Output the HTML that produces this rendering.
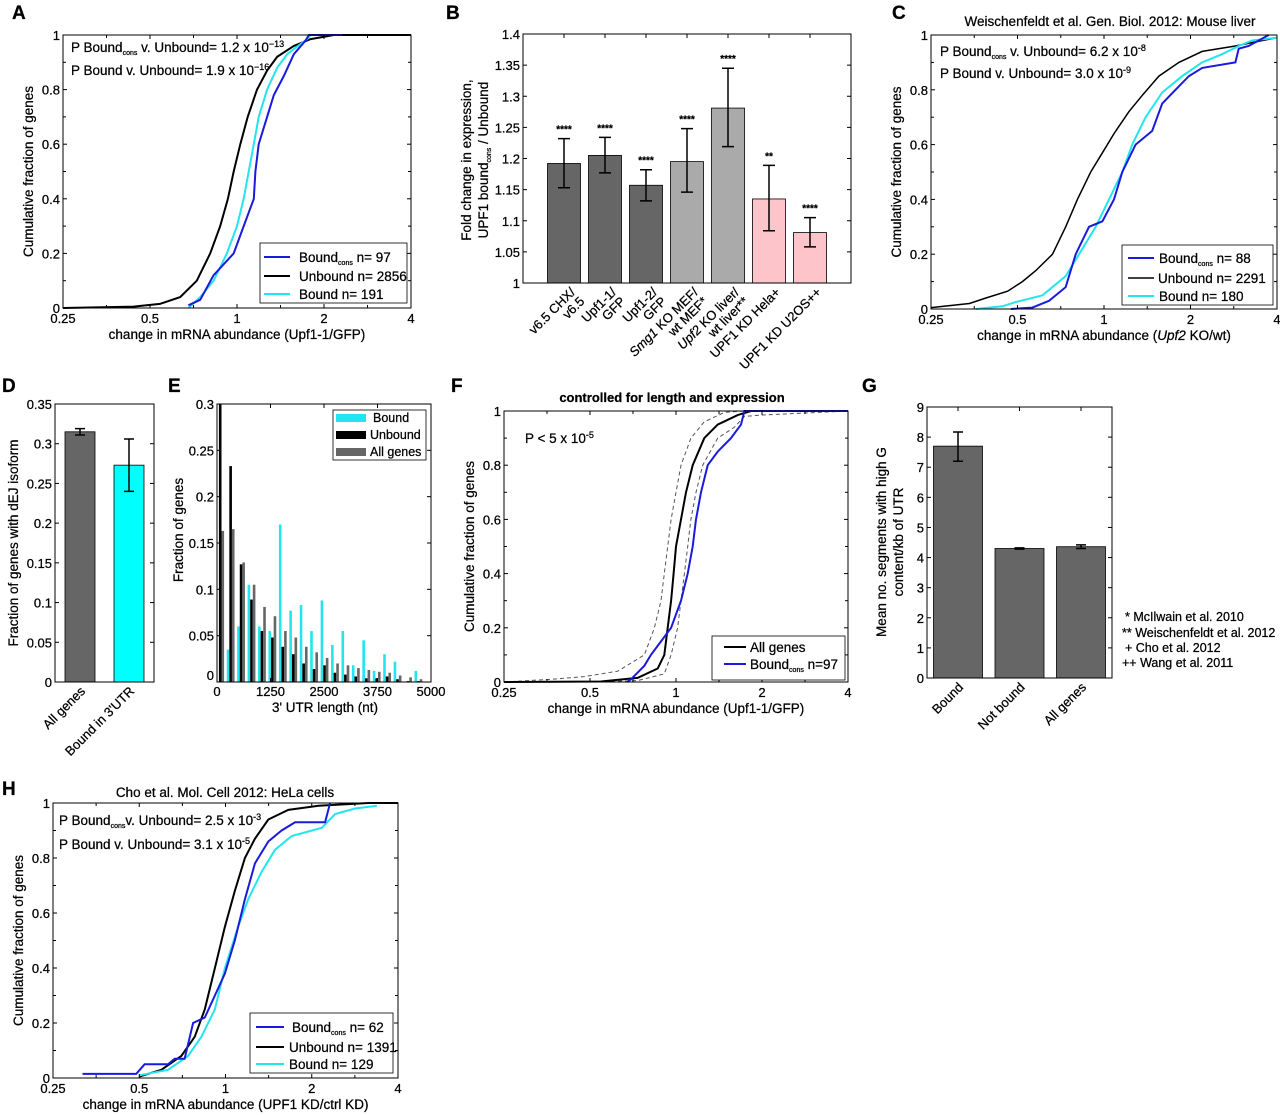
<!DOCTYPE html>
<html><head><meta charset="utf-8"><style>
html,body{margin:0;padding:0;background:#fff;}
svg{display:block;font-family:"Liberation Sans",Arial,sans-serif;}
text{fill:#000;stroke:#000;stroke-width:0.25px;}
</style></head><body>
<svg id="fig" xmlns="http://www.w3.org/2000/svg" width="1280" height="1115" viewBox="0 0 1280 1115">
<rect width="1280" height="1115" fill="#fff"/>
<g font-weight="bold" font-size="19">
<text x="12" y="19">A</text>
<text x="446" y="19">B</text>
<text x="892" y="19">C</text>
<text x="2" y="392">D</text>
<text x="168" y="392">E</text>
<text x="451" y="392">F</text>
<text x="862" y="392">G</text>
<text x="2" y="795">H</text>
</g>
<g font-size="13.5">
<text x="71" y="52">P Bound<tspan font-size="7" dy="3">cons</tspan><tspan dy="-3"> v. Unbound= 1.2 x 10</tspan><tspan font-size="9" dy="-5">−13</tspan></text>
<text x="71" y="75">P Bound v. Unbound= 1.9 x 10<tspan font-size="9" dy="-5">−16</tspan></text>
<text x="1110" y="26" text-anchor="middle">Weischenfeldt et al. Gen. Biol. 2012: Mouse liver</text>
<text x="940" y="56">P Bound<tspan font-size="7" dy="3">cons</tspan><tspan dy="-3"> v. Unbound= 6.2 x 10</tspan><tspan font-size="9" dy="-5">-8</tspan></text>
<text x="940" y="78">P Bound v. Unbound= 3.0 x 10<tspan font-size="9" dy="-5">-9</tspan></text>
<text x="672" y="402" text-anchor="middle" font-weight="bold" font-size="13">controlled for length and expression</text>
<text x="525" y="443">P &lt; 5 x 10<tspan font-size="9" dy="-5">-5</tspan></text>
<text x="225" y="797" text-anchor="middle">Cho et al. Mol. Cell 2012: HeLa cells</text>
<text x="59" y="825">P Bound<tspan font-size="7" dy="3">cons</tspan><tspan dy="-3">v. Unbound= 2.5 x 10</tspan><tspan font-size="9" dy="-5">-3</tspan></text>
<text x="59" y="849">P Bound v. Unbound= 3.1 x 10<tspan font-size="9" dy="-5">-5</tspan></text>
<text x="1125" y="621" font-size="12.5">*  McIlwain et al. 2010</text>
<text x="1122" y="637" font-size="12.5">** Weischenfeldt et al. 2012</text>
<text x="1125" y="652" font-size="12.5">+  Cho et al. 2012</text>
<text x="1122" y="667" font-size="12.5">++ Wang et al. 2011</text>
</g>
<g id="plots"></g>
<g font-size="13.5">
<g>
<rect x="260" y="243" width="147" height="60" fill="#fff" stroke="#000" stroke-width="0.8"/>
<line x1="264" y1="257" x2="290" y2="257" stroke="#1a1adb" stroke-width="2"/>
<text x="299" y="262">Bound<tspan font-size="7" dy="3">cons</tspan><tspan dy="-3">   n= 97</tspan></text>
<line x1="264" y1="276" x2="290" y2="276" stroke="#000" stroke-width="2"/>
<text x="299" y="281">Unbound n= 2856</text>
<line x1="264" y1="294" x2="290" y2="294" stroke="#22e5ee" stroke-width="2"/>
<text x="299" y="299">Bound n= 191</text>
</g>
<g>
<rect x="1122" y="245" width="151" height="60" fill="#fff" stroke="#000" stroke-width="0.8"/>
<line x1="1128" y1="258" x2="1154" y2="258" stroke="#1a1adb" stroke-width="2"/>
<text x="1159" y="263">Bound<tspan font-size="7" dy="3">cons</tspan><tspan dy="-3"> n= 88</tspan></text>
<line x1="1128" y1="278" x2="1154" y2="278" stroke="#000" stroke-width="1.5"/>
<text x="1158" y="283">Unbound n= 2291</text>
<line x1="1128" y1="296" x2="1154" y2="296" stroke="#22e5ee" stroke-width="2"/>
<text x="1159" y="301">Bound n= 180</text>
</g>
<g>
<rect x="712" y="636" width="133" height="44" fill="#fff" stroke="#000" stroke-width="0.8"/>
<line x1="724" y1="647" x2="746" y2="647" stroke="#000" stroke-width="2"/>
<text x="750" y="652">All genes</text>
<line x1="724" y1="664" x2="746" y2="664" stroke="#1a1adb" stroke-width="2"/>
<text x="750" y="669">Bound<tspan font-size="7" dy="3">cons</tspan><tspan dy="-3">   n=97</tspan></text>
</g>
<g>
<rect x="250" y="1013" width="143" height="60" fill="#fff" stroke="#000" stroke-width="0.8"/>
<line x1="256" y1="1027" x2="284" y2="1027" stroke="#1a1adb" stroke-width="2"/>
<text x="292" y="1032">Bound<tspan font-size="7" dy="3">cons</tspan><tspan dy="-3">   n= 62</tspan></text>
<line x1="256" y1="1047" x2="284" y2="1047" stroke="#000" stroke-width="2"/>
<text x="289" y="1052">Unbound n= 1391</text>
<line x1="256" y1="1064" x2="284" y2="1064" stroke="#22e5ee" stroke-width="2"/>
<text x="289" y="1069">Bound n= 129</text>
</g>
<g font-size="12.5">
<rect x="333" y="410" width="93" height="50" fill="#fff" stroke="#000" stroke-width="0.8"/>
<rect x="336" y="414" width="30" height="8" fill="#22e5ee"/>
<text x="373" y="422">Bound</text>
<rect x="336" y="431" width="30" height="8" fill="#000"/>
<text x="370" y="439">Unbound</text>
<rect x="336" y="448" width="30" height="8" fill="#666"/>
<text x="370" y="456">All genes</text>
</g>
</g>
</svg>
<script>
// ---------- data ----------
const cdfTicks = [0.25, 0.5, 1, 2, 4];
const cdfTickLabels = ['0.25', '0.5', '1', '2', '4'];
const cdfYTicks = [0, 0.2, 0.4, 0.6, 0.8, 1];
const cdfYLabels = ['0', '0.2', '0.4', '0.6', '0.8', '1'];

// Panel A
const aUnboundX = [0.25, 0.438, 0.541, 0.636, 0.726, 0.808, 0.875, 0.930, 0.974, 1.027, 1.089, 1.173, 1.271, 1.377, 1.573, 1.798, 2.166, 4];
const aUnboundY = [0, 0.005, 0.015, 0.04, 0.1, 0.2, 0.3, 0.4, 0.5, 0.6, 0.7, 0.8, 0.87, 0.92, 0.96, 0.985, 1, 1];
const aBoundX = [0.679, 0.746, 0.830, 0.923, 1.0, 1.055, 1.098, 1.143, 1.189, 1.271, 1.377, 1.492, 1.75, 1.798, 2.317];
const aBoundY = [0, 0.04, 0.1, 0.2, 0.3, 0.4, 0.5, 0.6, 0.7, 0.8, 0.88, 0.93, 0.985, 1, 1];
const aConsX = [0.679, 0.746, 0.830, 0.974, 1.055, 1.143, 1.158, 1.189, 1.271, 1.341, 1.452, 1.573, 1.727, 1.774, 2.317];
const aConsY = [0.01, 0.03, 0.12, 0.2, 0.3, 0.4, 0.5, 0.6, 0.7, 0.78, 0.85, 0.93, 0.98, 1, 1];

// Panel C
const cUnboundX = [0.25, 0.340, 0.388, 0.462, 0.520, 0.579, 0.662, 0.736, 0.808, 0.899, 0.987, 1.083, 1.221, 1.359, 1.552, 1.822, 2.196, 2.866, 3.364, 4];
const cUnboundY = [0.005, 0.02, 0.04, 0.065, 0.1, 0.14, 0.2, 0.3, 0.4, 0.5, 0.57, 0.64, 0.72, 0.78, 0.85, 0.9, 0.94, 0.96, 0.975, 0.99];
const cBoundX = [0.358, 0.443, 0.493, 0.611, 0.736, 0.819, 0.936, 1.041, 1.158, 1.254, 1.396, 1.594, 1.871, 2.196, 2.576, 2.944, 3.276, 4];
const cBoundY = [0, 0.01, 0.025, 0.05, 0.12, 0.2, 0.3, 0.4, 0.5, 0.6, 0.7, 0.79, 0.85, 0.9, 0.93, 0.96, 0.98, 0.99];
const cConsX = [0.474, 0.563, 0.644, 0.736, 0.797, 0.887, 0.987, 1.083, 1.158, 1.288, 1.472, 1.594, 1.774, 1.974, 2.196, 2.866, 2.944, 3.189, 3.743];
const cConsY = [0, 0.005, 0.03, 0.08, 0.2, 0.3, 0.32, 0.4, 0.5, 0.6, 0.65, 0.75, 0.8, 0.85, 0.88, 0.9, 0.95, 0.96, 1.0];

// Panel F
const fAllX = [0.25, 0.546, 0.734, 0.863, 0.910, 0.935, 0.961, 0.981, 1, 1.041, 1.084, 1.144, 1.256, 1.399, 1.644, 1.830, 4];
const fAllY = [0, 0.002, 0.015, 0.05, 0.1, 0.2, 0.3, 0.4, 0.5, 0.6, 0.7, 0.8, 0.9, 0.95, 0.985, 1, 1];
const fUpperX = [0.25, 0.365, 0.478, 0.625, 0.775, 0.840, 0.886, 0.910, 0.935, 0.961, 1, 1.041, 1.128, 1.256, 1.477, 1.735, 4];
const fUpperY = [0, 0.01, 0.02, 0.04, 0.1, 0.2, 0.3, 0.4, 0.5, 0.6, 0.7, 0.8, 0.9, 0.96, 0.995, 1, 1];
const fLowerX = [0.5, 0.734, 0.910, 0.961, 1.013, 1.041, 1.070, 1.099, 1.128, 1.175, 1.240, 1.399, 1.600, 1.735, 1.984, 4];
const fLowerY = [0, 0.005, 0.03, 0.1, 0.2, 0.3, 0.4, 0.5, 0.6, 0.7, 0.8, 0.9, 0.94, 0.98, 0.985, 1];
const fConsX = [0.674, 0.696, 0.775, 0.817, 0.886, 0.961, 1.041, 1.099, 1.144, 1.175, 1.223, 1.291, 1.399, 1.558, 1.689, 1.735, 4];
const fConsY = [0, 0.01, 0.06, 0.1, 0.15, 0.2, 0.3, 0.4, 0.5, 0.6, 0.7, 0.8, 0.85, 0.9, 0.95, 1, 1];

// Panel H
const hUnboundX = [0.5, 0.597, 0.701, 0.781, 0.847, 0.918, 0.995, 1.078, 1.169, 1.267, 1.41, 1.657, 2.111, 3.158, 4];
const hUnboundY = [0.005, 0.03, 0.08, 0.15, 0.25, 0.4, 0.55, 0.68, 0.8, 0.87, 0.94, 0.975, 0.99, 1, 1];
const hBoundX = [0.5, 0.630, 0.740, 0.824, 0.918, 0.995, 1.107, 1.2, 1.337, 1.488, 1.702, 2.168, 2.414, 2.836, 3.377];
const hBoundY = [0.01, 0.03, 0.08, 0.15, 0.25, 0.4, 0.55, 0.65, 0.75, 0.83, 0.88, 0.91, 0.96, 0.98, 0.99];
const hConsX = [0.317, 0.488, 0.522, 0.630, 0.665, 0.720, 0.771, 0.847, 0.918, 0.995, 1.078, 1.169, 1.267, 1.41, 1.570, 1.749, 2.227, 2.318];
const hConsY = [0.015, 0.015, 0.05, 0.05, 0.07, 0.07, 0.2, 0.22, 0.3, 0.38, 0.5, 0.65, 0.78, 0.86, 0.9, 0.93, 0.93, 1.0];

// Panel B
const bCategories = ['v6.5 CHX/|v6.5', 'Upf1-1/|GFP', 'Upf1-2/|GFP', 'Smg1 KO MEF/|wt MEF*', 'Upf2 KO liver/|wt liver**', 'UPF1 KD Hela+', 'UPF1 KD U2OS++'];
const bValues = [1.192, 1.205, 1.157, 1.195, 1.281, 1.135, 1.081];
const bErrLow = [1.153, 1.177, 1.132, 1.146, 1.219, 1.084, 1.058];
const bErrHigh = [1.232, 1.234, 1.182, 1.248, 1.345, 1.189, 1.105];
const bStars = ['****', '****', '****', '****', '****', '**', '****'];
const bGroups = ['dark', 'dark', 'dark', 'light', 'light', 'pink', 'pink'];
const bYTicks = [1, 1.05, 1.1, 1.15, 1.2, 1.25, 1.3, 1.35, 1.4];
const bYLabels = ['1', '1.05', '1.1', '1.15', '1.2', '1.25', '1.3', '1.35', '1.4'];

// Panel D
const dCategories = ['All genes', "Bound in 3'UTR"];
const dValues = [0.315, 0.273];
const dErrLow = [0.311, 0.240];
const dErrHigh = [0.319, 0.306];
const dYTicks = [0, 0.05, 0.1, 0.15, 0.2, 0.25, 0.3, 0.35];
const dYLabels = ['0', '0.05', '0.1', '0.15', '0.2', '0.25', '0.3', '0.35'];

// Panel E
const eBins = [0, 250, 500, 750, 1000, 1250, 1500, 1750, 2000, 2250, 2500, 2750, 3000, 3250, 3500, 3750, 4000, 4250, 4500, 4750];
const eBound = [0, 0.035, 0.06, 0.105, 0.06, 0.055, 0.17, 0.077, 0.083, 0.055, 0.088, 0.04, 0.055, 0.018, 0.045, 0.012, 0.03, 0.022, 0, 0.012];
const eUnbound = [0.35, 0.233, 0.127, 0.089, 0.055, 0.048, 0.038, 0.03, 0.02, 0.014, 0.018, 0.01, 0.008, 0.006, 0.004, 0.004, 0.006, 0.003, 0.001, 0.001];
const eAll = [0.163, 0.165, 0.129, 0.105, 0.081, 0.071, 0.055, 0.048, 0.038, 0.032, 0.026, 0.02, 0.018, 0.015, 0.013, 0.011, 0.01, 0.007, 0.005, 0.003];
const eXTicks = [0, 1250, 2500, 3750, 5000];
const eXLabels = ['0', '1250', '2500', '3750', '5000'];
const eYTicks = [0, 0.05, 0.1, 0.15, 0.2, 0.25, 0.3];
const eYLabels = ['0', '0.05', '0.1', '0.15', '0.2', '0.25', '0.3'];

// Panel G
const gCategories = ['Bound', 'Not bound', 'All genes'];
const gValues = [7.7, 4.3, 4.36];
const gErrLow = [7.2, 4.28, 4.3];
const gErrHigh = [8.17, 4.32, 4.42];
const gYTicks = [0, 1, 2, 3, 4, 5, 6, 7, 8, 9];
const gYLabels = ['0', '1', '2', '3', '4', '5', '6', '7', '8', '9'];

// ---------- drawing ----------
const NS = 'http://www.w3.org/2000/svg';
const root = document.getElementById('plots');
const BLUE = '#1a1adb', CYAN = '#22e5ee';
function mk(tag, parent) { const e = document.createElementNS(NS, tag); parent.appendChild(e); return e; }
function logScale(x0, x1) { return v => x0 + (Math.log2(v) + 2) / 4 * (x1 - x0); }
function linScale(d0, d1, r0, r1) { return v => r0 + (v - d0) / (d1 - d0) * (r1 - r0); }

function frame(g, b) {
  const r = mk('rect', g);
  
  
  r.setAttribute('x', b.x0); r.setAttribute('y', b.y0);
  r.setAttribute('width', b.x1 - b.x0); r.setAttribute('height', b.y1 - b.y0);
  r.setAttribute('fill', 'none'); r.setAttribute('stroke', '#000'); r.setAttribute('stroke-width', '1');
}
function tick(g, x1, y1, x2, y2) {
  const l = mk('line', g);
  
  
  l.setAttribute('x1', x1); l.setAttribute('y1', y1); l.setAttribute('x2', x2); l.setAttribute('y2', y2);
  l.setAttribute('stroke', '#000'); l.setAttribute('stroke-width', '1');
}
function label(g, x, y, s, anchor, size) {
  const t = mk('text', g);
  
  
  t.setAttribute('x', x); t.setAttribute('y', y);
  t.setAttribute('text-anchor', anchor); t.setAttribute('font-size', size || 13);
  t.textContent = s;
  return t;
}
function yTicks(g, b, ys, ticks, labels) {
  ticks.forEach((v, i) => {
    const y = ys(v);
    tick(g, b.x0, y, b.x0 + 4, y); tick(g, b.x1, y, b.x1 - 4, y);
    label(g, b.x0 - 3, y + 5, labels[i], 'end');
  });
}
function axisTitle(g, x, y, s, rotate, name) {
  const t = mk('text', g);
  
  
  t.setAttribute('x', x); t.setAttribute('y', y);
  t.setAttribute('text-anchor', 'middle'); t.setAttribute('font-size', 13.5);
  if (rotate) t.setAttribute('transform', `rotate(-90 ${x} ${y})`);
  t.textContent = s;
  return t;
}
function line(g, xs, ys, X, Y, color, w, dash, name) {
  const p = mk('polyline', g);
  
  
  p.setAttribute('points', X.map((v, i) => xs(v).toFixed(1) + ',' + ys(Y[i]).toFixed(1)).join(' '));
  p.setAttribute('fill', 'none'); p.setAttribute('stroke', color); p.setAttribute('stroke-width', w);
  if (dash) p.setAttribute('stroke-dasharray', dash);
}

function cdfPanel(id, b, xTitle, series) {
  const g = mk('g', root);
  
  
  const xs = logScale(b.x0, b.x1), ys = linScale(0, 1, b.y1, b.y0);
  series.forEach(s => line(g, xs, ys, s.x, s.y, s.color, s.w, s.dash, s.name));
  frame(g, b);
  cdfTicks.forEach((v, i) => {
    const x = xs(v);
    tick(g, x, b.y1, x, b.y1 - 4); tick(g, x, b.y0, x, b.y0 + 4);
    label(g, x, b.y1 + 15, cdfTickLabels[i], 'middle');
    if (i < cdfTicks.length - 1) {
      const xm = xs(v * Math.SQRT2);
      tick(g, xm, b.y1, xm, b.y1 - 3); tick(g, xm, b.y0, xm, b.y0 + 3);
    }
  });
  for (let k = 1; k < 10; k += 2) {
    const y = ys(k / 10);
    tick(g, b.x0, y, b.x0 + 3, y); tick(g, b.x1, y, b.x1 - 3, y);
  }
  yTicks(g, b, ys, cdfYTicks, cdfYLabels);
  const xt = axisTitle(g, (b.x0 + b.x1) / 2, b.y1 + 31, '', false, id + '-x-axis-title');
  xt.innerHTML = xTitle;
  axisTitle(g, b.x0 - 30, (b.y0 + b.y1) / 2, 'Cumulative fraction of genes', true, id + '-y-axis-title');
}

cdfPanel('a', {x0: 63, y0: 35, x1: 411, y1: 308}, 'change in mRNA abundance (Upf1-1/GFP)', [
  {x: aUnboundX, y: aUnboundY, color: '#000', w: 2, name: 'a-unbound-line'},
  {x: aBoundX, y: aBoundY, color: CYAN, w: 2, name: 'a-bound-line'},
  {x: aConsX, y: aConsY, color: BLUE, w: 2, name: 'a-bound-cons-line'}
]);
cdfPanel('c', {x0: 931, y0: 35, x1: 1277, y1: 309}, 'change in mRNA abundance (<tspan font-style="italic">Upf2</tspan> KO/wt)', [
  {x: cUnboundX, y: cUnboundY, color: '#000', w: 1.5, name: 'c-unbound-line'},
  {x: cBoundX, y: cBoundY, color: CYAN, w: 2, name: 'c-bound-line'},
  {x: cConsX, y: cConsY, color: BLUE, w: 2, name: 'c-bound-cons-line'}
]);
cdfPanel('f', {x0: 504, y0: 411, x1: 848, y1: 682}, 'change in mRNA abundance (Upf1-1/GFP)', [
  {x: fUpperX, y: fUpperY, color: '#555', w: 1, dash: '4,3', name: 'f-upper-bound-dashed'},
  {x: fLowerX, y: fLowerY, color: '#555', w: 1, dash: '4,3', name: 'f-lower-bound-dashed'},
  {x: fAllX, y: fAllY, color: '#000', w: 2, name: 'f-all-genes-line'},
  {x: fConsX, y: fConsY, color: BLUE, w: 2, name: 'f-bound-cons-line'}
]);
cdfPanel('h', {x0: 53, y0: 803, x1: 398, y1: 1078}, 'change in mRNA abundance (UPF1 KD/ctrl KD)', [
  {x: hUnboundX, y: hUnboundY, color: '#000', w: 2, name: 'h-unbound-line'},
  {x: hBoundX, y: hBoundY, color: CYAN, w: 2, name: 'h-bound-line'},
  {x: hConsX, y: hConsY, color: BLUE, w: 2, name: 'h-bound-cons-line'}
]);

function errBar(g, x, yLo, yHi, cap) {
  const p = mk('path', g);
  
  
  p.setAttribute('d', `M${x},${yLo}V${yHi}M${x - cap},${yLo}H${x + cap}M${x - cap},${yHi}H${x + cap}`);
  p.setAttribute('stroke', '#000'); p.setAttribute('stroke-width', '1.5'); p.setAttribute('fill', 'none');
}
function bar(g, x, w, yTop, yBase, color, name) {
  const r = mk('rect', g);
  
  
  r.setAttribute('x', x - w / 2); r.setAttribute('y', yTop);
  r.setAttribute('width', w); r.setAttribute('height', yBase - yTop);
  r.setAttribute('fill', color); r.setAttribute('stroke', '#000'); r.setAttribute('stroke-width', '0.8');
}

// Panel B
(function () {
  const b = {x0: 523, y0: 34, x1: 851, y1: 283};
  const g = mk('g', root);
  
  
  const ys = linScale(1, 1.4, b.y1, b.y0);
  const step = (b.x1 - b.x0) / (bValues.length + 1);
  const xs = i => b.x0 + step * (i + 1);
  const colors = {dark: '#666', light: '#aaa', pink: '#fdc4c9'};
  bValues.forEach((v, i) => {
    bar(g, xs(i), 33, ys(v), b.y1, colors[bGroups[i]], 'b-bar-' + (i + 1));
    errBar(g, xs(i), ys(bErrLow[i]), ys(bErrHigh[i]), 6);
    const st = label(g, xs(i), ys(bErrHigh[i]) - 6, bStars[i], 'middle', 10);
    
    st.setAttribute('font-weight', 'bold');
    const parts = bCategories[i].split('|');
    const t = mk('text', g);
    
    
    const ax = xs(i) + 12, ay = b.y1 + 10;
    t.setAttribute('transform', `rotate(-45 ${ax} ${ay})`);
    t.setAttribute('text-anchor', 'end'); t.setAttribute('font-size', 13);
    parts.forEach((p, k) => {
      const ts = mk('tspan', t);
      ts.setAttribute('x', ax); ts.setAttribute('y', ay + k * 13);
      const m = p.match(/^(Smg1|Upf2)(.*)$/);
      if (m) {
        const it = mk('tspan', ts); it.setAttribute('font-style', 'italic'); it.textContent = m[1];
        const rest = mk('tspan', ts); rest.textContent = m[2];
      } else ts.textContent = p;
    });
  });
  frame(g, b);
  bValues.forEach((v, i) => tick(g, xs(i), b.y0, xs(i), b.y0 + 4));
  yTicks(g, b, ys, bYTicks, bYLabels);
  axisTitle(g, 471, 160, 'Fold change in expression,', true, 'b-y-axis-title-line1');
  const t2 = axisTitle(g, 488, 160, '', true, 'b-y-axis-title-line2');
  t2.innerHTML = 'UPF1 bound<tspan font-size="7" dy="3">cons</tspan><tspan dy="-3"> / Unbound</tspan>';
})();

// Panel D
(function () {
  const b = {x0: 55, y0: 404, x1: 154, y1: 682};
  const g = mk('g', root);
  
  
  const ys = linScale(0, 0.35, b.y1, b.y0);
  const xs = i => b.x0 + 25 + i * 49;
  const cols = ['#666', '#00ffff'];
  dValues.forEach((v, i) => {
    bar(g, xs(i), 30, ys(v), b.y1, cols[i], 'd-bar-' + (i + 1));
    errBar(g, xs(i), ys(dErrLow[i]), ys(dErrHigh[i]), 5);
    const t = label(g, xs(i) + 6, b.y1 + 10, dCategories[i], 'end');
    
    t.setAttribute('transform', `rotate(-45 ${xs(i) + 6} ${b.y1 + 10})`);
  });
  frame(g, b);
  yTicks(g, b, ys, dYTicks, dYLabels);
  axisTitle(g, 18, 543, 'Fraction of genes with dEJ isoform', true, 'd-y-axis-title');
})();

// Panel E
(function () {
  const b = {x0: 217, y0: 404, x1: 431, y1: 682};
  const g = mk('g', root);
  
  
  const ys = linScale(0, 0.3, b.y1, b.y0);
  const xs = linScale(0, 5000, b.x0, b.x1);
  const clip = v => Math.min(v, 0.3);
  const series = [[eBound, '#22e5ee', 0.6, 'e-bar-bound'], [eUnbound, '#000', 3.2, 'e-bar-unbound'], [eAll, '#666', 5.8, 'e-bar-all-genes']];
  series.forEach(([vals, col, off, name]) => {
    vals.forEach((v, i) => {
      if (v <= 0) return;
      const r = mk('rect', g);
      
      
      const x = xs(eBins[i]) * 0.975 + b.x0 * 0.025 + off;
      r.setAttribute('x', x - 1.3); r.setAttribute('y', ys(clip(v)));
      r.setAttribute('width', 2.6); r.setAttribute('height', b.y1 - ys(clip(v)));
      r.setAttribute('fill', col);
    });
  });
  frame(g, b);
  eXTicks.forEach((v, i) => {
    const x = xs(v);
    tick(g, x, b.y1, x, b.y1 - 4); tick(g, x, b.y0, x, b.y0 + 4);
    label(g, x, b.y1 + 14, eXLabels[i], 'middle');
  });
  eYTicks.forEach((v, i) => {
    const y = ys(v);
    tick(g, b.x0, y, b.x0 + 4, y); tick(g, b.x1, y, b.x1 - 4, y);
    label(g, b.x0 - 3, y + (i === 0 ? -2 : 5), eYLabels[i], 'end');
  });
  axisTitle(g, 325, 712, "3' UTR length (nt)", false, 'e-x-axis-title');
  axisTitle(g, 183, 530, 'Fraction of genes', true, 'e-y-axis-title');
})();

// Panel G
(function () {
  const b = {x0: 927, y0: 407, x1: 1112, y1: 678};
  const g = mk('g', root);
  
  
  const ys = linScale(0, 9, b.y1, b.y0);
  const xs = i => b.x0 + 31 + i * 61.5;
  gValues.forEach((v, i) => {
    bar(g, xs(i), 49, ys(v), b.y1, '#666', 'g-bar-' + (i + 1));
    errBar(g, xs(i), ys(gErrLow[i]), ys(gErrHigh[i]), 5);
    const t = label(g, xs(i) + 6, b.y1 + 10, gCategories[i], 'end');
    
    t.setAttribute('transform', `rotate(-45 ${xs(i) + 6} ${b.y1 + 10})`);
  });
  frame(g, b);
  gValues.forEach((v, i) => tick(g, xs(i), b.y0, xs(i), b.y0 + 4));
  yTicks(g, b, ys, gYTicks, gYLabels);
  axisTitle(g, 886, 542, 'Mean no. segments with high G', true, 'g-y-axis-title-line1');
  axisTitle(g, 903, 542, 'content/kb of UTR', true, 'g-y-axis-title-line2');
})();
</script>
</body></html>
